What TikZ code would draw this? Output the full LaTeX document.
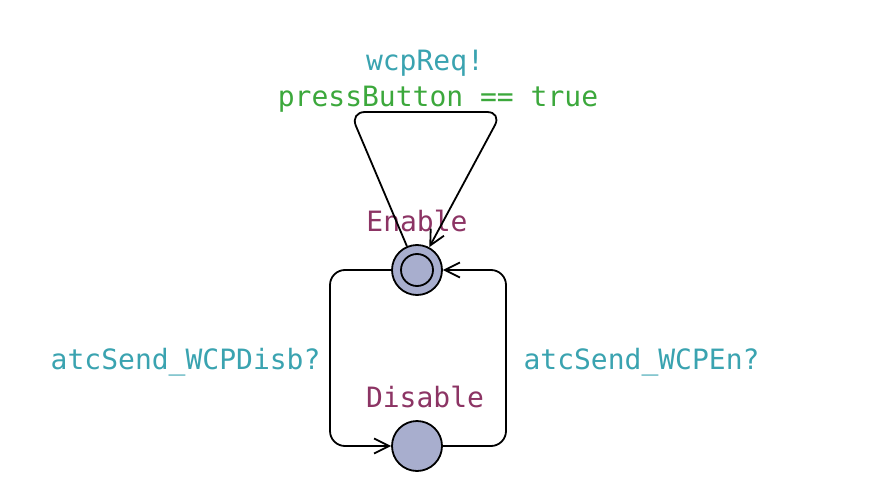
\documentclass[tikz,border=0pt]{standalone}
\usepackage{fontspec}
\setmonofont{DejaVu Sans Mono}
\usepackage{tikz}
\usetikzlibrary{positioning, arrows.meta}

\definecolor{locfill}{RGB}{168,174,206}
\definecolor{synccol}{RGB}{58,163,176}
\definecolor{guardcol}{RGB}{60,168,60}
\definecolor{namecol}{RGB}{140,52,100}

\tikzset{
  location/.style={circle, draw, line width=1.8pt, fill=locfill, minimum size=50pt, inner sep=0pt},
  edge/.style={line width=1.8pt, rounded corners=15pt, -{Straight Barb[length=15pt,width=15pt,line width=1.8pt]}},
  synclabel/.style={text=synccol, font=\ttfamily\fontsize{28}{32}\selectfont},
  guardlabel/.style={text=guardcol, font=\ttfamily\fontsize{28}{32}\selectfont},
  namelabel/.style={text=namecol, font=\ttfamily\fontsize{28}{32}\selectfont}
}

\begin{document}
\begin{tikzpicture}[x=1pt, y=-1pt]
    \useasboundingbox (0,0) rectangle (870,503);

    % Locations
    \node[location] (enable) at (417,270) {};
    \draw[line width=1.8pt] (enable) circle (16pt);
    \node[location] (disable) at (417,446) {};
    \node[namelabel] (enablename) at (417,221) {Enable};
    \node[namelabel] (disablename) at (425,397) {Disable};

    % Corner points
    \coordinate (loopL) at (350,112);
    \coordinate (loopR) at (502,112);
    \coordinate (leftT) at (330,270);
    \coordinate (leftB) at (330,446);
    \coordinate (rightB) at (506,446);
    \coordinate (rightT) at (506,270);

    % Edges
    \draw[edge] (enable) -- (loopL) -- (loopR) -- (enable);
    \draw[edge] (enable.west) -- (leftT) -- (leftB) -- (disable.west);
    \draw[edge] (disable.east) -- (rightB) -- (rightT) -- (enable.east);

    % Labels
    \node[synclabel] (reqsync) at (425,63) {wcpReq!};
    \node[guardlabel] (pressguard) at (438,99) {pressButton == true};
    \node[synclabel, anchor=east] (disbsync) at (324,362) {atcSend\_WCPDisb?};
    \node[synclabel, anchor=west] (ensync) at (520,362) {atcSend\_WCPEn?};
\end{tikzpicture}
\end{document}
